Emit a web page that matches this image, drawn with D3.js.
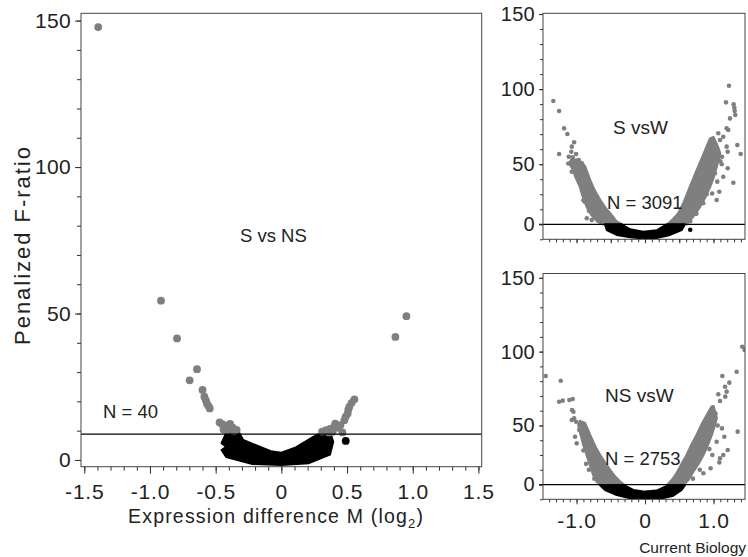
<!DOCTYPE html>
<html>
<head>
<meta charset="utf-8">
<script src="https://cdnjs.cloudflare.com/ajax/libs/d3/7.8.5/d3.min.js"></script>
<style>
  body { margin: 0; background: #fff; }
  svg { display: block; font-family: 'Liberation Sans', Arial, sans-serif; }
</style>
</head>
<body>
<div id="chart"></div>
<script>
// ---- data: [M (log2), penalized F] ----

// S vs NS: the 40 significant genes (gray)
const svnsGray = [
    [-1.394, 147.8], [-0.916, 54.4], [-0.794, 41.5], [-0.642, 31.0], [-0.698, 27.2],
    [-0.600, 23.9], [-0.586, 21.6], [-0.575, 20.4], [-0.566, 19.2], [-0.553, 18.3],
    [-0.545, 17.6], [-0.470, 12.8], [-0.450, 12.2], [-0.430, 11.4], [-0.410, 11.8],
    [-0.390, 12.3], [-0.370, 11.0], [-0.410, 10.2], [-0.360, 9.8], [-0.340, 10.3],
    [-0.440, 10.4], [0.310, 9.7], [0.340, 10.2], [0.370, 10.6], [0.400, 11.2],
    [0.410, 12.4], [0.430, 11.0], [0.450, 11.9], [0.465, 9.4], [0.480, 13.6],
    [0.490, 14.8], [0.505, 15.9], [0.510, 17.2], [0.518, 18.2], [0.535, 19.5],
    [0.556, 20.7], [0.868, 42.0], [0.952, 49.1], [0.390, 9.6], [0.360, 9.4]
];
const svnsBlackDots = [[0.49, 6.5]];
// outline of the dense non-significant (black) cloud
const svnsBlackMass = [
    [-0.42, 9.2], [-0.32, 9.2], [-0.29, 6.8], [-0.17, 4.6], [-0.08, 3.0], [0, 2.5],
    [0.11, 4.3], [0.24, 7.8], [0.30, 9.2], [0.37, 9.6], [0.395, 6.2], [0.37, 1.8],
    [0.21, -1.1], [0, -1.7], [-0.22, -1.4], [-0.42, 1.0], [-0.455, 3.4], [-0.42, 4.5],
    [-0.455, 5.7]
];
const svnsCutoff = 8.8;
const svnsN = 40;

// S vs W (values on the small panels' own axis, whose "0" label sits at 10)
const svwGrayLeft = [
    [-0.61, 10], [-0.70, 12], [-0.78, 16], [-0.85, 21.6], [-0.92, 30], [-0.95, 35],
    [-1.00, 40], [-1.06, 47], [-1.10, 50], [-1.08, 53], [-1.00, 53], [-0.92, 51],
    [-0.876, 48.4], [-0.803, 39.5], [-0.73, 32], [-0.657, 26.2], [-0.58, 21],
    [-0.51, 17.3], [-0.414, 11.7], [-0.34, 10]
];
const svwGrayRight = [
    [0.33, 10], [0.42, 14], [0.487, 17.3], [0.57, 25], [0.657, 35], [0.72, 42],
    [0.778, 48.4], [0.84, 55], [0.90, 61.7], [0.95, 67], [1.00, 68], [1.06, 62],
    [1.095, 57.3], [1.046, 48.4], [1.00, 41], [0.949, 35], [0.88, 28], [0.803, 21.7],
    [0.70, 15], [0.608, 10]
];
const svwGrayDots = [
    [-1.339, 92.1], [-1.255, 85.4], [-1.255, 56.8], [-1.182, 73.9], [-1.134, 70.1],
    [-1.070, 61.7], [-1.036, 64.6], [-1.076, 58.3], [-1.114, 55.0], [-1.056, 54.6],
    [-1.007, 56.8], [-0.968, 52.8], [-0.924, 50.6], [-1.070, 45.0], [-0.851, 14.0],
    [-0.778, 12.8], [-1.12, 50.5], [-0.99, 43], [-0.90, 26], [-1.00, 42],
    [-0.96, 38], [-0.88, 25], [-0.82, 19], [-0.66, 12],
    [1.226, 102.3], [1.182, 91.2], [1.294, 89.9], [1.304, 87.6], [1.309, 85.4],
    [1.318, 82.8], [1.241, 80.5], [1.192, 73.9], [1.216, 72.8], [1.348, 62.8],
    [1.397, 56.8], [1.290, 37.7], [1.143, 68.3], [1.192, 61.7], [1.207, 58.3],
    [1.124, 55.0], [1.207, 47.3], [1.055, 38.4], [1.143, 41.7], [1.085, 31.7],
    [1.046, 26.2], [1.070, 70.6], [1.095, 66.1], [1.12, 50.0], [0.98, 30.5],
    [1.10, 52], [1.02, 44], [0.90, 30], [0.85, 24], [0.75, 17], [0.66, 12]
];
const svwBlackMass = [
    [-0.584, 10], [-0.56, 6.2], [-0.414, 2.9], [-0.219, 1.3], [-0.025, 0.6], [0.17, 0.9],
    [0.365, 2.9], [0.535, 6.2], [0.584, 10], [0.316, 10], [0.17, 6.0], [-0.025, 5.1],
    [-0.219, 6.7], [-0.34, 10]
];
const svwBlackDots = [[0.66, 6.4]];
const svwN = 3091;

// NS vs W
const nsvwGrayLeft = [
    [-0.64, 10], [-0.705, 11.9], [-0.76, 17], [-0.803, 23.2], [-0.85, 30], [-0.90, 36.8],
    [-0.94, 44], [-0.973, 50.3], [-0.95, 53], [-0.876, 51.5], [-0.803, 43.5],
    [-0.73, 36], [-0.657, 30], [-0.58, 24.5], [-0.51, 19.8], [-0.44, 15.5],
    [-0.365, 11.9], [-0.31, 10]
];
const nsvwGrayRight = [
    [0.33, 10], [0.40, 13.5], [0.462, 17.6], [0.53, 23.5], [0.608, 30], [0.68, 37],
    [0.754, 43.5], [0.82, 50], [0.876, 54.8], [0.973, 62.7], [1.00, 63], [1.046, 54.8],
    [1.01, 49], [0.973, 43.5], [0.91, 36], [0.851, 30], [0.78, 24], [0.705, 18.7],
    [0.63, 13], [0.56, 10]
];
const nsvwGrayDots = [
    [-1.450, 83.5], [-1.231, 80.3], [-1.255, 66.1], [-1.202, 66.8], [-1.105, 67.2],
    [-1.056, 67.9], [-1.066, 60.5], [-1.046, 59.3], [-1.070, 53.7], [-1.036, 54.8],
    [-1.007, 52.5], [-1.022, 42.4], [-0.998, 37.9], [-0.93, 45], [-0.86, 24],
    [-0.96, 47], [-0.90, 33], [-0.82, 20], [-0.74, 14],
    [1.420, 103.3], [1.455, 101.1], [1.338, 86.4], [1.129, 83.5], [1.231, 79.0],
    [1.168, 76.2], [1.192, 72.9], [1.172, 69.5], [1.070, 71.1], [1.095, 66.6],
    [1.353, 45.8], [1.208, 33.4], [1.085, 25.0], [0.852, 17.6], [0.958, 21.0],
    [1.124, 48.0], [1.158, 42.4], [1.046, 39.0], [1.143, 30.0], [1.095, 27.8],
    [0.983, 30.0], [1.03, 58], [1.06, 50], [0.94, 34], [0.80, 20], [0.70, 14]
];
const nsvwBlackMass = [
    [-0.657, 9.5], [-0.584, 6.3], [-0.414, 2.9], [-0.219, 0.7], [0, 0.1], [0.219, 0.3],
    [0.414, 2.4], [0.535, 6.3], [0.584, 9.6], [0.34, 9.6], [0.17, 5.9], [0, 5.2],
    [-0.17, 6.3], [-0.31, 9.6]
];
const nsvwN = 2753;

// axis ticks and labels
const bigXTicks = [-1.5, -1.0, -0.5, 0, 0.5, 1.0, 1.5];
const bigXLabels = ['-1.5', '-1.0', '-0.5', '0', '0.5', '1.0', '1.5'];
const bigYTicks = [0, 50, 100, 150];
const bigYLabels = ['0', '50', '100', '150'];
const smallXTicks = [-1.0, 0, 1.0];
const smallXLabels = ['-1.0', '0', '1.0'];
const smallYTicks = [10, 50, 100, 150];
const smallYLabels = ['0', '50', '100', '150'];
const smallCutoff = 10;

const GRAY = '#7f7f7f';
const INK = '#222';

const svg = d3.select('#chart').append('svg')
    .attr('width', 748)
    .attr('height', 557);

svg.append('rect').attr('width', 748).attr('height', 557).attr('fill', '#fff');

const outline = (x, y) => d3.line()
    .x(d => x(d[0]))
    .y(d => y(d[1]))
    .curve(d3.curveLinearClosed);

function drawPanel(p) {
    const x = d3.scaleLinear().domain(p.xDomain).range([p.left, p.right]);
    const y = d3.scaleLinear().domain(p.yDomain).range([p.bottom, p.top]);
    const g = svg.append('g');

    g.append('clipPath').attr('id', p.id)
        .append('rect')
        .attr('x', p.left).attr('y', p.top)
        .attr('width', p.right - p.left).attr('height', p.bottom - p.top);

    const marks = g.append('g').attr('clip-path', 'url(#' + p.id + ')');
    const shape = outline(x, y);

    // dense clouds
    p.grayMasses.forEach(m => {
        marks.append('path')
            .attr('d', shape(m))
            .attr('fill', GRAY)
            .attr('stroke', GRAY)
            .attr('stroke-width', 2.5)
            .attr('stroke-linejoin', 'round');
    });
    marks.append('path')
        .attr('d', shape(p.blackMass))
        .attr('fill', '#000')
        .attr('stroke', '#000')
        .attr('stroke-width', 2)
        .attr('stroke-linejoin', 'round');

    marks.selectAll('circle.gray')
        .data(p.grayDots)
        .enter().append('circle')
        .attr('class', 'gray')
        .attr('cx', d => x(d[0]))
        .attr('cy', d => y(d[1]))
        .attr('r', p.r)
        .attr('fill', GRAY);

    marks.selectAll('circle.black')
        .data(p.blackDots)
        .enter().append('circle')
        .attr('class', 'black')
        .attr('cx', d => x(d[0]))
        .attr('cy', d => y(d[1]))
        .attr('r', p.r)
        .attr('fill', '#000');

    // cut-off line
    g.append('line')
        .attr('x1', p.left - p.lineOut).attr('x2', p.right)
        .attr('y1', y(p.cutoff)).attr('y2', y(p.cutoff))
        .attr('stroke', '#000')
        .attr('stroke-width', 1.3);

    // frame
    g.append('rect')
        .attr('x', p.left).attr('y', p.top)
        .attr('width', p.right - p.left).attr('height', p.bottom - p.top)
        .attr('fill', 'none')
        .attr('stroke', '#444')
        .attr('stroke-width', 1);

    // axes: minor ticks, then labelled majors
    const noDomain = sel => sel.select('.domain').remove();

    g.append('g')
        .attr('transform', 'translate(' + p.left + ',0)')
        .call(d3.axisLeft(y).tickValues(d3.range(0, 151, 10)).tickSize(p.yMinor).tickFormat(''))
        .call(noDomain);
    g.append('g')
        .attr('class', 'y-axis')
        .attr('transform', 'translate(' + p.left + ',0)')
        .call(d3.axisLeft(y).tickValues(p.yTicks).tickSize(p.yMajor).tickPadding(p.yPad)
            .tickFormat((d, i) => p.yLabels[i]))
        .call(noDomain);

    g.append('g')
        .attr('transform', 'translate(0,' + p.bottom + ')')
        .call(d3.axisBottom(x).tickValues(d3.range(-15, 16).map(v => v / 10)
            .filter(v => v >= p.xDomain[0] && v <= p.xDomain[1])).tickSize(p.xMinor).tickFormat(''))
        .call(noDomain);
    g.append('g')
        .attr('class', 'x-axis')
        .attr('transform', 'translate(0,' + p.bottom + ')')
        .call(d3.axisBottom(x).tickValues(p.xMajorTicks).tickSize(p.xMajor).tickPadding(p.xPad)
            .tickFormat((d, i) => p.xLabels ? p.xLabels[i] : ''))
        .call(noDomain);

    g.selectAll('.tick line').attr('stroke', '#333');
    g.selectAll('.y-axis text')
        .attr('font-size', p.yFont)
        .attr('fill', INK)
        .attr('letter-spacing', 0.3)
        .attr('font-family', "'Liberation Sans', Arial, sans-serif");
    g.selectAll('.x-axis text')
        .attr('font-size', p.xFont)
        .attr('fill', INK)
        .attr('letter-spacing', 0.8)
        .attr('font-family', "'Liberation Sans', Arial, sans-serif");

    // labels inside the panel
    p.notes.forEach(n => {
        g.append('text')
            .attr('x', n.x).attr('y', n.y)
            .attr('font-size', n.size)
            .attr('fill', INK)
            .text(n.text);
    });

    return { x, y };
}

// big panel: S vs NS
drawPanel({
    id: 'clip-svns',
    left: 81, right: 481.7, top: 13.3, bottom: 466.7,
    xDomain: [-1.525, 1.525], yDomain: [-2.3, 152.5],
    grayMasses: [], blackMass: svnsBlackMass,
    grayDots: svnsGray, blackDots: svnsBlackDots, r: 3.9,
    cutoff: svnsCutoff, lineOut: 0,
    yTicks: bigYTicks, yLabels: bigYLabels, yMajor: 6, yMinor: 4, yPad: 4, yFont: 21,
    xMajorTicks: bigXTicks, xLabels: bigXLabels, xMajor: 7, xMinor: 4, xPad: 10, xFont: 21,
    notes: [
        { text: 'S vs NS', x: 240, y: 242, size: 18.5 },
        { text: 'N = ' + svnsN, x: 103, y: 417.5, size: 18.5 }
    ]
});

// small panel: S vs W
drawPanel({
    id: 'clip-svw',
    left: 543, right: 745, top: 13.3, bottom: 239.3,
    xDomain: [-1.49, 1.46], yDomain: [0, 150.5],
    grayMasses: [svwGrayLeft, svwGrayRight], blackMass: svwBlackMass,
    grayDots: svwGrayDots, blackDots: svwBlackDots, r: 2.3,
    cutoff: smallCutoff, lineOut: 4,
    yTicks: smallYTicks, yLabels: smallYLabels, yMajor: 4, yMinor: 3, yPad: 4, yFont: 20,
    xMajorTicks: [-1.0, -0.5, 0, 0.5, 1.0], xLabels: null, xMajor: 4, xMinor: 3, xPad: 9, xFont: 20,
    notes: [
        { text: 'S vsW', x: 613, y: 134, size: 19 },
        { text: 'N = ' + svwN, x: 607, y: 208.7, size: 18.5 }
    ]
});

// small panel: NS vs W
drawPanel({
    id: 'clip-nsvw',
    left: 543, right: 745, top: 273.5, bottom: 499.3,
    xDomain: [-1.49, 1.46], yDomain: [0, 152.9],
    grayMasses: [nsvwGrayLeft, nsvwGrayRight], blackMass: nsvwBlackMass,
    grayDots: nsvwGrayDots, blackDots: [], r: 2.3,
    cutoff: smallCutoff, lineOut: 4,
    yTicks: smallYTicks, yLabels: smallYLabels, yMajor: 4, yMinor: 3, yPad: 4, yFont: 20,
    xMajorTicks: smallXTicks, xLabels: smallXLabels, xMajor: 5, xMinor: 3, xPad: 9, xFont: 21,
    notes: [
        { text: 'NS vsW', x: 605, y: 401.7, size: 19 },
        { text: 'N = ' + nsvwN, x: 605, y: 464.7, size: 18.5 }
    ]
});

// axis titles
svg.append('text')
    .attr('transform', 'translate(30,246) rotate(-90)')
    .attr('text-anchor', 'middle')
    .attr('font-size', 22)
    .attr('fill', INK)
    .attr('textLength', 198)
    .attr('lengthAdjust', 'spacing')
    .text('Penalized F-ratio');

const xTitle = svg.append('text')
    .attr('x', 128)
    .attr('y', 523)
    .attr('font-size', 19.5)
    .attr('fill', INK)
    .attr('textLength', 295)
    .attr('lengthAdjust', 'spacing');
xTitle.append('tspan').text('Expression difference M  (log');
xTitle.append('tspan').attr('font-size', 13).attr('dy', 5).text('2');
xTitle.append('tspan').attr('dy', -5).text(')');

svg.append('text')
    .attr('x', 746)
    .attr('y', 553)
    .attr('text-anchor', 'end')
    .attr('font-size', 15.5)
    .attr('fill', INK)
    .text('Current Biology');
</script>
</body>
</html>
